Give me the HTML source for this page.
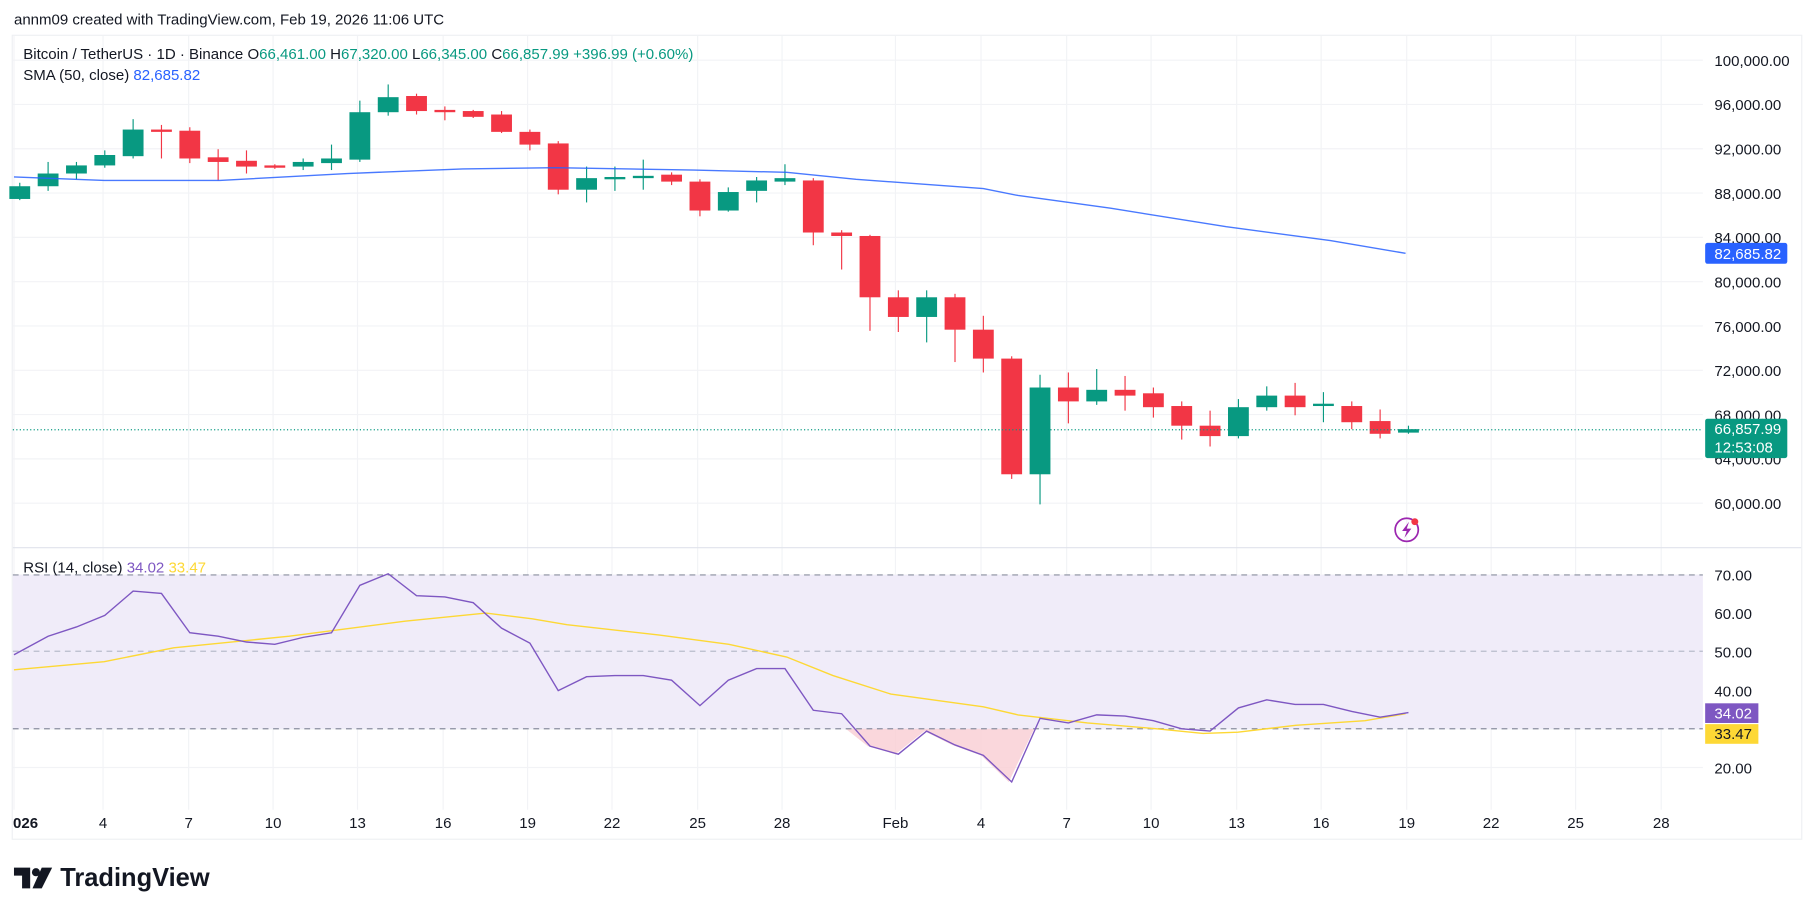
<!DOCTYPE html>
<html><head><meta charset="utf-8"><style>
html,body{margin:0;padding:0;background:#fff;width:1814px;height:915px;overflow:hidden}
svg{display:block;font-family:"Liberation Sans",sans-serif}
</style></head><body>
<svg id="s" width="1814" height="915" viewBox="0 0 1568 791" xmlns="http://www.w3.org/2000/svg">
<rect width="1568" height="791" fill="#fff"/>
<text x="12" y="21" font-size="13" fill="#131722">annm09 created with TradingView.com, Feb 19, 2026 11:06 UTC</text>
<rect x="10.5" y="30.5" width="1547" height="695" fill="#fff" stroke="#eef0f3"/>
<g id="grid" stroke="#f2f3f6" stroke-width="1"></g>
<rect x="11" y="497" width="1461" height="133" fill="#f0ecf9"/>
<path id="os" fill="#f9cdd3" opacity="0.8"/>
<line x1="11" y1="497" x2="1472" y2="497" stroke="#8a8fa0" stroke-dasharray="5,4"/>
<line x1="11" y1="563" x2="1472" y2="563" stroke="#b8bccb" stroke-dasharray="5,4"/>
<line x1="11" y1="630" x2="1472" y2="630" stroke="#8a8fa0" stroke-dasharray="5,4"/>
<line x1="11" y1="473.5" x2="1557" y2="473.5" stroke="#e0e3eb"/>
<g id="c"></g>
<path id="sma" fill="none" stroke="#2962ff" stroke-width="1.2" opacity="0.85"/>
<line x1="11" y1="371.5" x2="1472" y2="371.5" stroke="#089981" stroke-dasharray="1,2"/>
<path id="ma" fill="none" stroke="#fdd835" stroke-width="1.2"/>
<path id="rsi" fill="none" stroke="#7e57c2" stroke-width="1.2"/>
<circle cx="1216" cy="458" r="10" fill="none" stroke="#9c27b0" stroke-width="1.5"/>
<path d="M1218 451 L1212 459 L1216 459 L1214 465 L1220 457 L1216 457 Z" fill="#9c27b0"/>
<circle cx="1223" cy="451" r="3" fill="#f23645"/>
<g font-size="13" fill="#131722">
<text x="20" y="51">Bitcoin / TetherUS · 1D · Binance <tspan>O</tspan><tspan fill="#089981">66,461.00</tspan> H<tspan fill="#089981">67,320.00</tspan> L<tspan fill="#089981">66,345.00</tspan> C<tspan fill="#089981">66,857.99 +396.99 (+0.60%)</tspan></text>
<text x="20" y="69">SMA (50, close) <tspan fill="#2962ff">82,685.82</tspan></text>
<text x="20" y="495">RSI (14, close) <tspan fill="#7e57c2">34.02</tspan> <tspan fill="#fdd835">33.47</tspan></text>
</g>
<g id="pl" font-size="13" fill="#131722"></g>
<rect x="1474" y="210" width="71" height="18" rx="2" fill="#2962ff"/>
<text x="1482" y="224" font-size="13" fill="#fff">82,685.82</text>
<rect x="1474" y="362" width="71" height="34" rx="2" fill="#089981"/>
<text x="1482" y="375" font-size="13" fill="#fff">66,857.99</text>
<text x="1482" y="391" font-size="13" fill="#fff">12:53:08</text>
<rect x="1474" y="608" width="46" height="17" fill="#7e57c2"/>
<text x="1482" y="621" font-size="13" fill="#fff">34.02</text>
<rect x="1474" y="626" width="46" height="17" fill="#fdd835"/>
<text x="1482" y="639" font-size="13" fill="#131722">33.47</text>
<g id="xl" font-size="13" fill="#131722" text-anchor="middle"></g>
<g transform="translate(12,748)">
<path d="M0 2 H14 V20 H7 V9 H0 Z" fill="#131722"/><circle cx="19" cy="6" r="3.5" fill="#131722"/><path d="M24 2 H33 L24 20 H16 Z" fill="#131722"/>
</g>
<text x="52" y="766" font-size="22" font-weight="bold" fill="#131722">TradingView</text>
</svg>
<script>
var NS="http://www.w3.org/2000/svg";
function el(p,t,a,txt){var e=document.createElementNS(NS,t);for(var k in a)e.setAttribute(k,a[k]);if(txt!=null)e.textContent=txt;document.getElementById(p).appendChild(e);return e;}
var xs=[12,89,163,236,309,383,456,529,603,676,774,848,922,995,1069,1142,1216,1289,1362,1436];
xs.forEach(function(x){el("grid","line",{x1:x,y1:31,x2:x,y2:700});});
var pv=[100,96,92,88,84,80,76,72,68,64,60];
pv.forEach(function(v){var y=52+(100-v)*9.575;el("grid","line",{x1:11,y1:y,x2:1472,y2:y});el("pl","text",{x:1482,y:y+5},v+",000.00");});
[70,60,50,40,30,20].forEach(function(v){var y=497+(70-v)*3.33;el("grid","line",{x1:11,y1:y,x2:1472,y2:y});if(v!=30)el("pl","text",{x:1482,y:y+5},v.toFixed(2));});
var lab=["026","4","7","10","13","16","19","22","25","28","Feb","4","7","10","13","16","19","22","25","28"];
xs.forEach(function(x,i){var t=el("xl","text",{x:i==0?22:x,y:716},lab[i]);if(i==0)t.setAttribute("font-weight","bold");});
var C=[["g",161,172,158,173],["g",150,161,140,165],["g",143,150,140,155],["g",134,143,130,145],["g",112,135,103,137],["r",112,114,108,137],["r",113,137,110,141],["r",136,140,129,156],["r",139,144,130,150],["r",143,145,142,146],["g",140,144,137,147],["g",137,141,125,147],["g",97,138,87,140],["g",84,97,73,100],["r",83,96,81,99],["r",95,97,92,104],["r",96,101,95,102],["r",99,114,96,115],["r",114,125,112,130],["r",124,164,122,168],["g",154,164,144,175],["g",153,155,144,165],["g",152,154,138,164],["r",151,157,149,160],["r",157,182,155,187],["g",166,182,162,183],["g",156,165,153,175],["g",154,157,142,160],["r",156,201,154,212],["r",201,204,199,233],["r",204,257,203,286],["r",257,274,251,287],["g",257,274,251,296],["r",257,285,254,313],["r",285,310,273,322],["r",310,410,308,414],["g",335,410,324,436],["r",335,347,322,366],["g",337,347,319,350],["r",337,342,325,355],["r",340,352,335,361],["r",351,368,347,380],["r",368,377,355,386],["g",352,377,345,379],["g",342,352,334,355],["r",342,352,331,359],["g",349,351,339,365],["r",351,365,347,371],["r",364,375,354,379],["g",371,374,368,375]];
C.forEach(function(c,i){var x=17+i*24.5;var col=c[0]=="g"?"#089981":"#f23645";
el("c","line",{x1:x,y1:c[3],x2:x,y2:c[4],stroke:col,"stroke-width":1});
el("c","rect",{x:x-9,y:c[1],width:18,height:Math.max(1.5,c[2]-c[1]),fill:col});});
function pth(id,pts){document.getElementById(id).setAttribute("d","M"+pts.map(function(p){return p.join(" ")}).join(" L"));}
pth("sma",[[12,153],[90,156],[190,156],[300,150],[400,146],[480,145],[600,147],[680,149],[740,155],[850,163],[880,169],[960,180],[1060,196],[1150,208],[1215,219]]);
var r=[566,550,542,532,511,513,547,550,555,557,551,547,506,496,515,516,521,543,556,597,585,584,584,588,610,588,578,578,614,617,645,652,632,644,653,676,621,625,618,619,623,630,632,612,605,609,609,615,620,616];
var rp=r.map(function(y,i){return [i==0?12:17+i*24.5,y]});
pth("rsi",rp);
pth("ma",[[12,579],[90,572],[150,560],[250,550],[350,537],[420,530],[460,535],[490,540],[570,549],[630,557],[680,568],[720,584],[770,600],[850,611],[880,618],[940,625],[1000,630],[1040,634],[1070,633],[1120,627],[1180,623],[1215,617]]);
document.getElementById("os").setAttribute("d","M731 630 L750 645 L774 652 L799 632 L823 644 L848 653 L872 676 L894 630 Z");
</script>
</body></html>
